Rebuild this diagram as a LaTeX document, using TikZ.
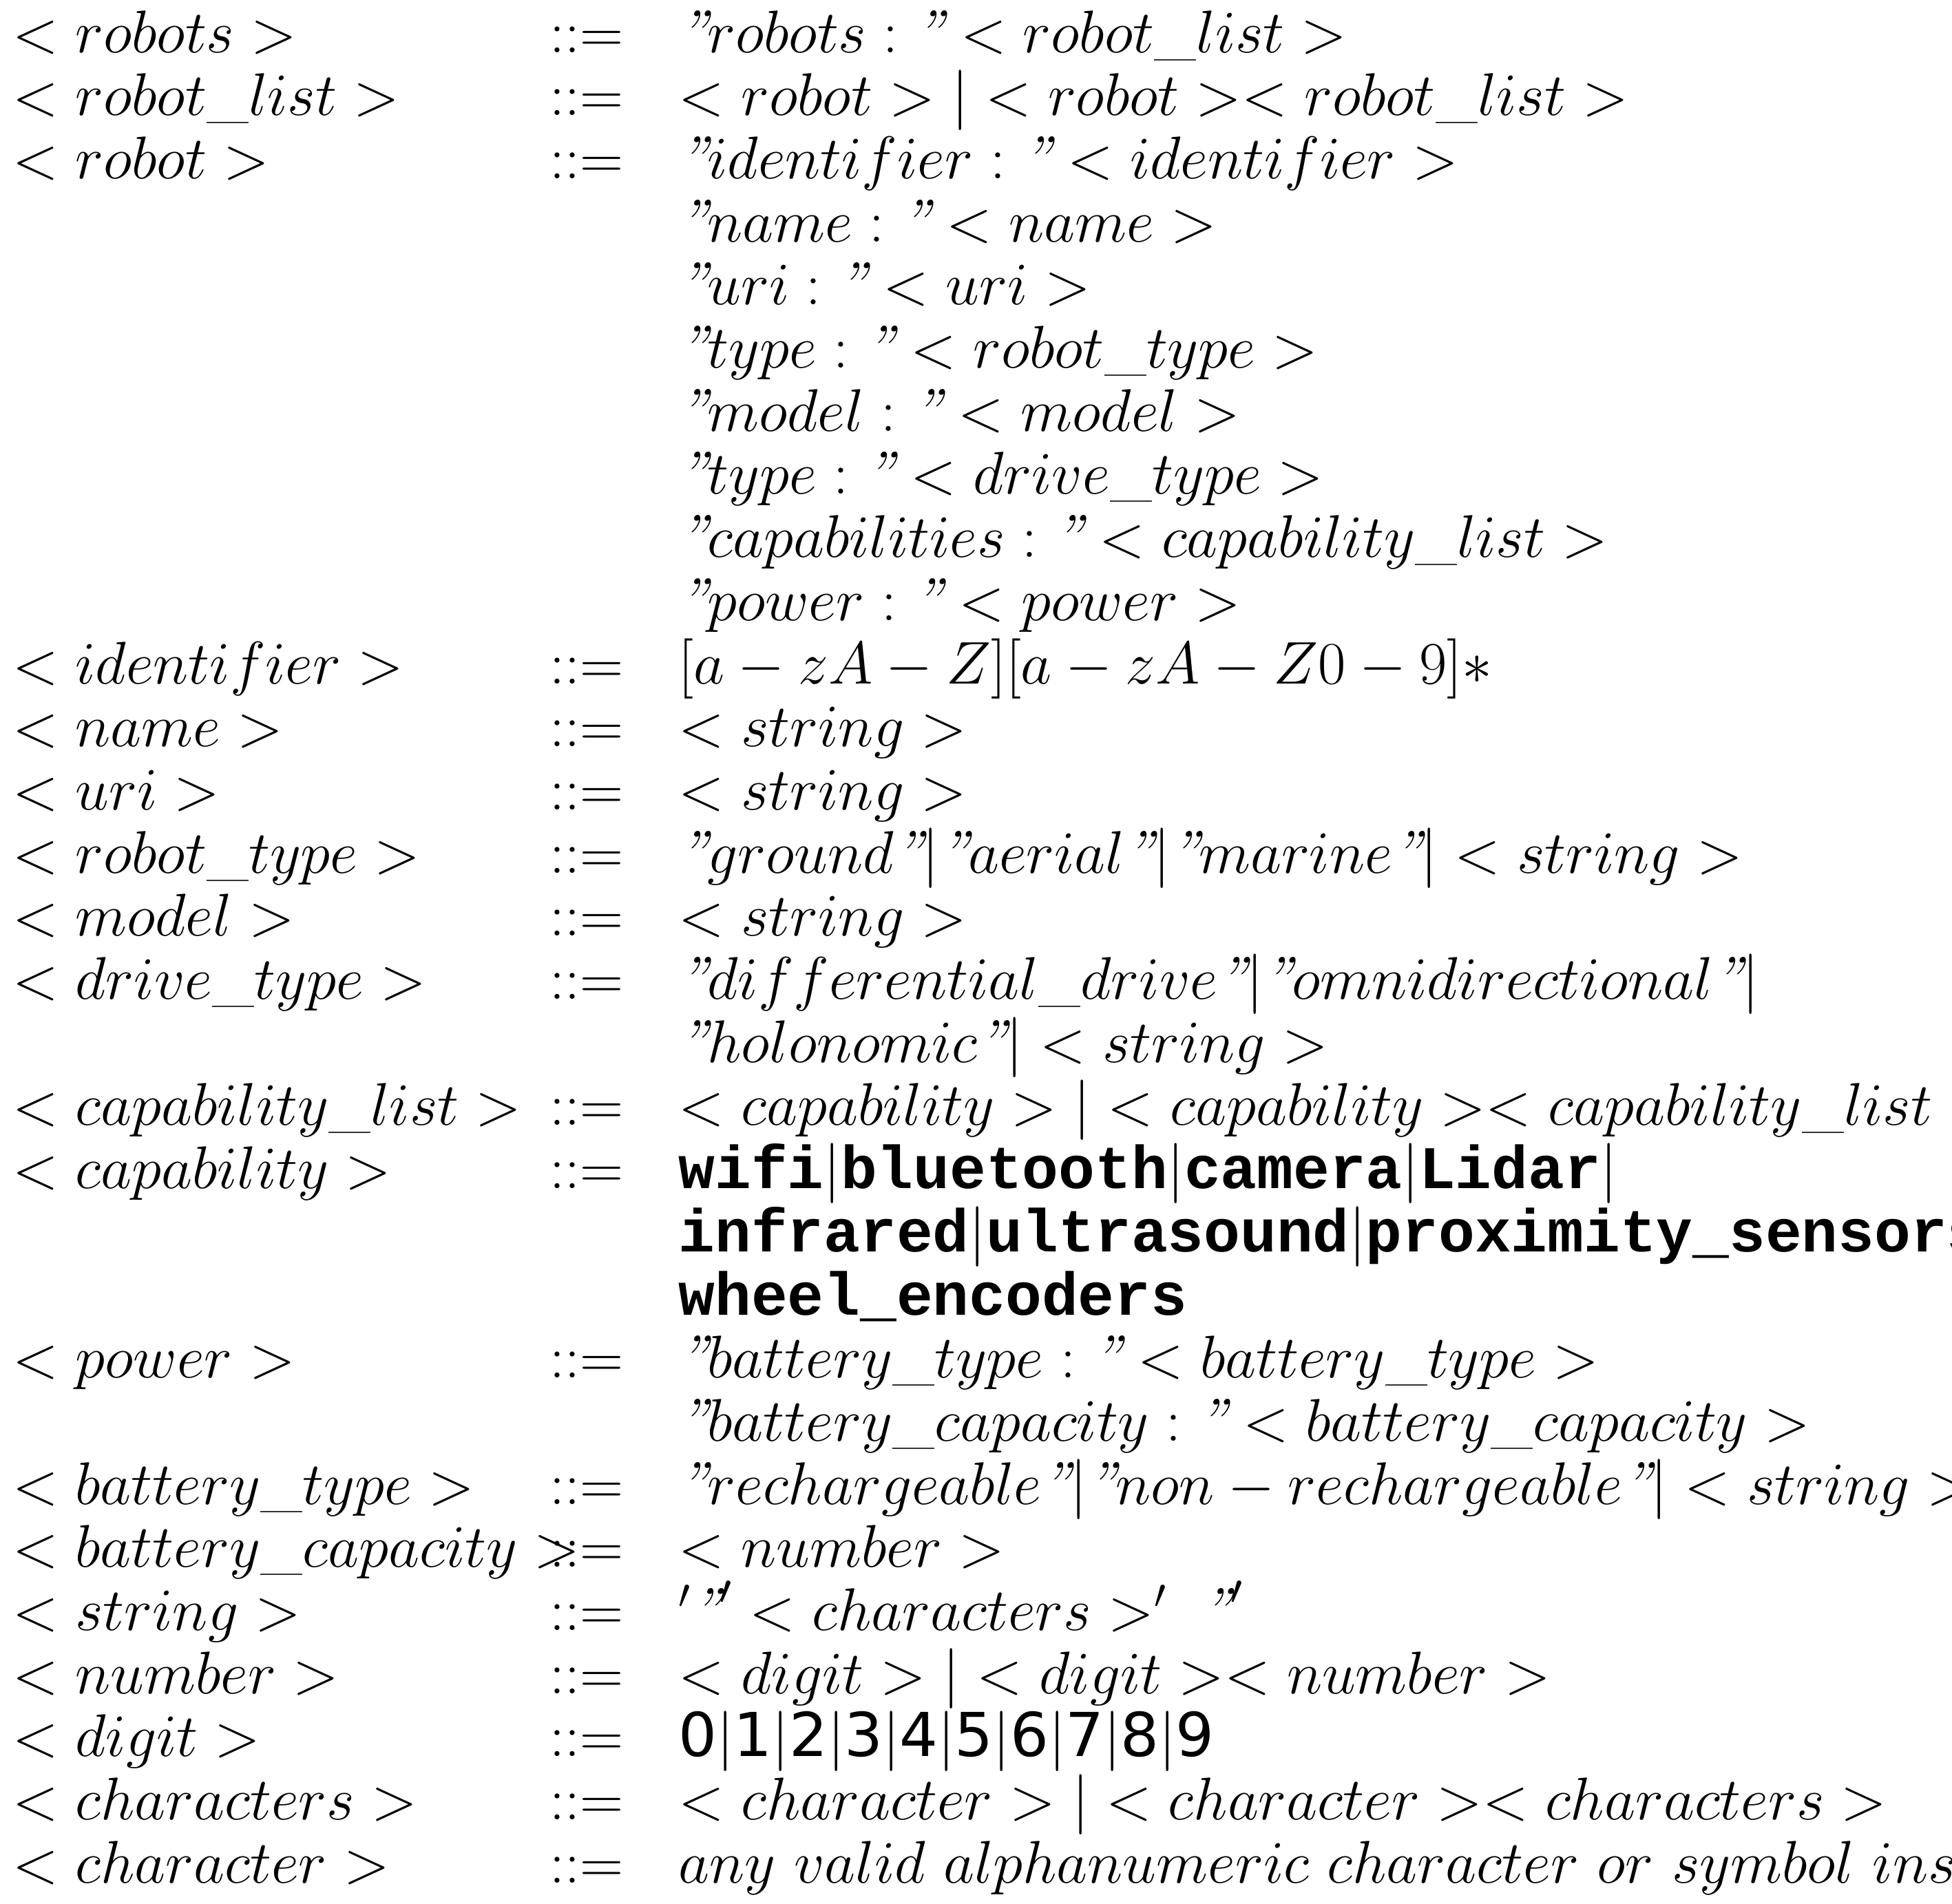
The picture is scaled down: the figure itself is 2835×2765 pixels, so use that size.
\documentclass[tikz,border=0pt]{standalone}
\usepackage{amsmath}
\usepackage{fontspec}
\newfontfamily\bmono{Liberation Mono}[BoldFont={Liberation Mono Bold}]
\newfontfamily\dsans{DejaVu Sans}
\newcommand{\q}{\text{\itshape "}}
\newcommand{\tb}[1]{\text{\bmono\bfseries #1}}
\begin{document}
\begin{tikzpicture}[x=0.01cm,y=-0.01cm,every node/.style={inner sep=0,anchor=base west,font=\fontsize{25}{30}\selectfont}]
\useasboundingbox (0,0) rectangle (2835,2765);
\def\pitch{91.7}
\newcounter{r}
\newcommand{\row}[3]{%
  \pgfmathsetmacro{\yy}{76+\pitch*\value{r}}%
  \node (l\arabic{r}) at (18,\yy) {#1};
  \node (c\arabic{r}) at (798,\yy) {#2};
  \node (r\arabic{r}) at (985,\yy) {#3};
  \stepcounter{r}}
\row{$<robots>$}{$::=$}{$\q robots:\q<robot\_list>$}
\row{$<robot\_list>$}{$::=$}{$<robot>|<robot><robot\_list>$}
\row{$<robot>$}{$::=$}{$\q identifier:\q<identifier>$}
\row{}{}{$\q name:\q<name>$}
\row{}{}{$\q uri:\q<uri>$}
\row{}{}{$\q type:\q<robot\_type>$}
\row{}{}{$\q model:\q<model>$}
\row{}{}{$\q type:\q<drive\_type>$}
\row{}{}{$\q capabilities:\q<capability\_list>$}
\row{}{}{$\q power:\q<power>$}
\row{$<identifier>$}{$::=$}{$[a-zA-Z][a-zA-Z0-9]*$}
\row{$<name>$}{$::=$}{$<string>$}
\row{$<uri>$}{$::=$}{$<string>$}
\row{$<robot\_type>$}{$::=$}{$\q ground\q|\q aerial\q|\q marine\q|<string>$}
\row{$<model>$}{$::=$}{$<string>$}
\row{$<drive\_type>$}{$::=$}{$\q differential\_drive\q|\q omnidirectional\q|$}
\row{}{}{$\q holonomic\q|<string>$}
\row{$<capability\_list>$}{$::=$}{$<capability>|<capability><capability\_list>$}
\row{$<capability>$}{$::=$}{$\tb{wifi}|\tb{bluetooth}|\tb{camera}|\tb{Lidar}|$}
\row{}{}{$\tb{infrared}|\tb{ultrasound}|\tb{proximity\_sensors}|$}
\row{}{}{$\tb{wheel\_encoders}$}
\row{$<power>$}{$::=$}{$\q battery\_type:\q<battery\_type>$}
\row{}{}{$\q battery\_capacity:\q<battery\_capacity>$}
\row{$<battery\_type>$}{$::=$}{$\q rechargeable\q|\q non-rechargeable\q|<string>$}
\row{$<battery\_capacity>$}{$::=$}{$<number>$}
\row{$<string>$}{$::=$}{$'\q'<characters>'\ \q'$}
\row{$<number>$}{$::=$}{$<digit>|<digit><number>$}
\row{$<digit>$}{$::=$}{$\text{\dsans 0}|\text{\dsans 1}|\text{\dsans 2}|\text{\dsans 3}|\text{\dsans 4}|\text{\dsans 5}|\text{\dsans 6}|\text{\dsans 7}|\text{\dsans 8}|\text{\dsans 9}$}
\row{$<characters>$}{$::=$}{$<character>|<character><characters>$}
\row{$<character>$}{$::=$}{$any\ valid\ alphanumeric\ character\ or\ symbol\ inside\ quotes$}
\end{tikzpicture}
\end{document}
